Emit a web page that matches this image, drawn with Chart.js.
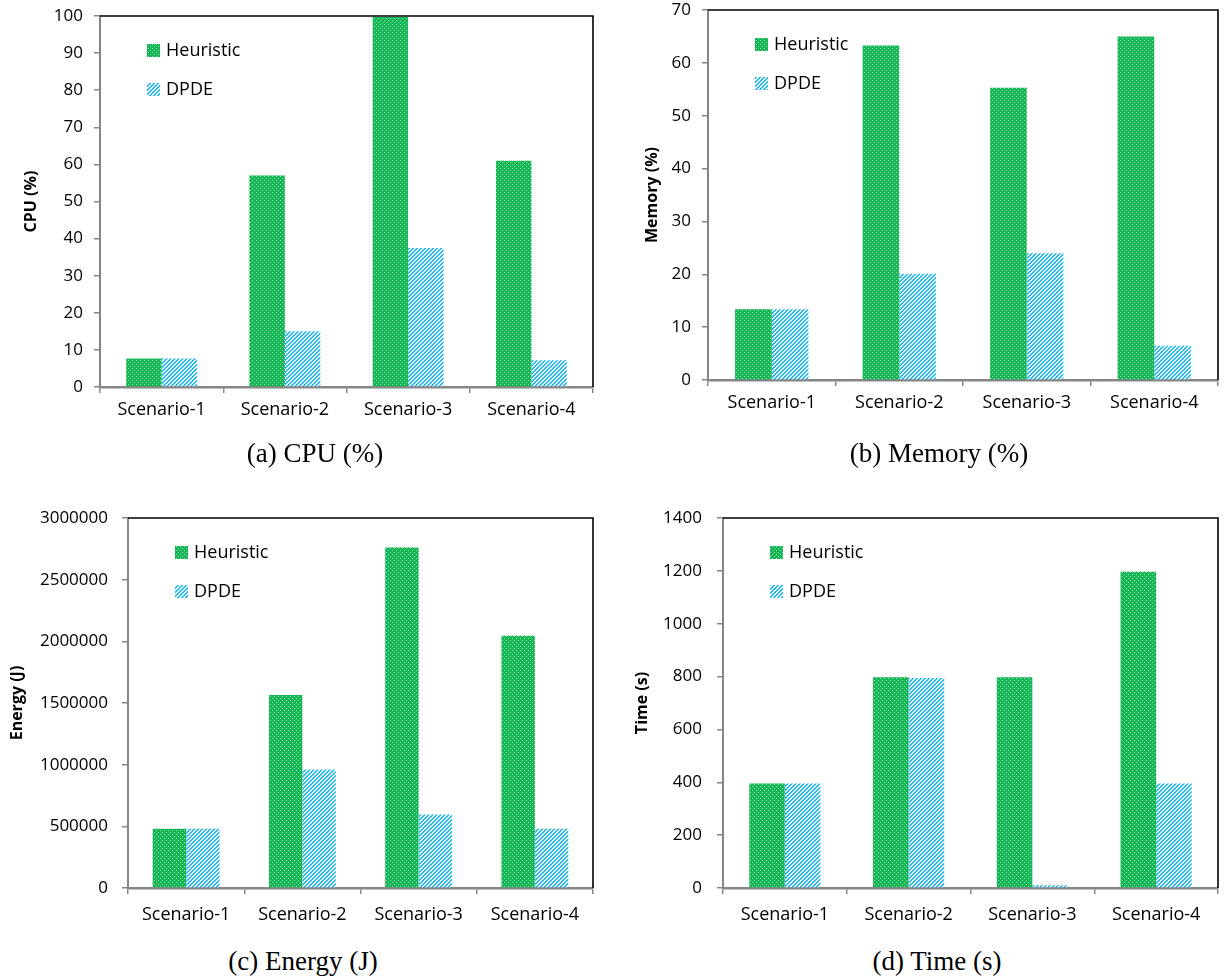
<!DOCTYPE html>
<html>
<head>
<meta charset="utf-8">
<script src="https://cdn.jsdelivr.net/npm/chart.js@4.4.1/dist/chart.umd.min.js"></script>
<style>
  html, body { margin: 0; padding: 0; background: #fff; }
  body { width: 1227px; height: 978px; position: relative; overflow: hidden; }
  canvas { position: absolute; }
  .cap { position: absolute; font-family: "Liberation Serif", "DejaVu Serif", serif; font-size: 27px; line-height: 30px; text-align: center; color: #000; white-space: nowrap; }
</style>
</head>
<body>
<canvas id="cA" width="600" height="460" style="left:0px;top:-20px"></canvas>
<canvas id="cB" width="627" height="460" style="left:600px;top:-20px"></canvas>
<canvas id="cC" width="600" height="440" style="left:0px;top:490px"></canvas>
<canvas id="cD" width="627" height="440" style="left:600px;top:490px"></canvas>
<div class="cap" style="left:115px;width:400px;top:438px">(a) CPU (%)</div>
<div class="cap" style="left:739px;width:400px;top:438px">(b) Memory (%)</div>
<div class="cap" style="left:103px;width:400px;top:946px">(c) Energy (J)</div>
<div class="cap" style="left:737px;width:400px;top:946px">(d) Time (s)</div>
<script>
// ---------- DATA ----------
const categories = ['Scenario-1', 'Scenario-2', 'Scenario-3', 'Scenario-4'];
const seriesNames = ['Heuristic', 'DPDE'];

const cpuHeuristic = [7.7, 57, 99.7, 61];
const cpuDPDE      = [7.7, 15, 37.5, 7.2];
const cpuTicks     = [0, 10, 20, 30, 40, 50, 60, 70, 80, 90, 100];

const memHeuristic = [13.4, 63.3, 55.3, 65];
const memDPDE      = [13.4, 20.1, 24, 6.5];
const memTicks     = [0, 10, 20, 30, 40, 50, 60, 70];

const energyHeuristic = [480000, 1565000, 2760000, 2045000];
const energyDPDE      = [480000, 960000, 595000, 480000];
const energyTicks     = [0, 500000, 1000000, 1500000, 2000000, 2500000, 3000000];

const timeHeuristic = [395, 797, 797, 1197];
const timeDPDE      = [395, 795, 10, 395];
const timeTicks     = [0, 200, 400, 600, 800, 1000, 1200, 1400];

// ---------- PATTERNS ----------
function makePattern(kind) {
  const c = document.createElement('canvas');
  c.width = 4; c.height = 4;
  const x = c.getContext('2d');
  if (kind === 'green') {
    x.fillStyle = '#16b656'; x.fillRect(0, 0, 4, 4);
    x.fillStyle = '#8fe0ad';
    x.fillRect(0, 0, 1, 1); x.fillRect(2, 2, 1, 1);
  } else {
    for (let i = 0; i < 4; i++) for (let j = 0; j < 4; j++) {
      x.fillStyle = ((i + j) % 4 < 2) ? '#2ab8f2' : '#e8f8fe';
      x.fillRect(i, j, 1, 1);
    }
  }
  return x.createPattern(c, 'repeat');
}
const greenPat = makePattern('green');
const bluePat = makePattern('blue');

const GRAY = '#868686';
const FAMILY = '"Open Sans", "Liberation Sans", sans-serif';

const framePlugin = {
  id: 'frameLegend',
  afterDraw(chart) {
    const { ctx, chartArea: a } = chart;
    ctx.save();
    ctx.strokeStyle = '#000'; ctx.lineWidth = 1.6;
    ctx.beginPath();
    ctx.moveTo(a.left, a.top); ctx.lineTo(a.right, a.top); ctx.lineTo(a.right, a.bottom);
    ctx.stroke();
    chart.data.datasets.forEach((ds, i) => {
      const x = a.left + 47, y = a.top + 34 + i * 39;
      ctx.fillStyle = ds.backgroundColor;
      ctx.fillRect(x, y - 6, 13, 13);
      ctx.fillStyle = '#000';
      ctx.font = '18px ' + FAMILY;
      ctx.textBaseline = 'middle';
      ctx.textAlign = 'left';
      ctx.fillText(ds.label, x + 19, y + 1);
    });
    ctx.restore();
  }
};

function build(id, geo, yTitle, heur, dpde, ticks) {
  const cv = document.getElementById(id);
  const W = cv.width, H = cv.height;
  new Chart(cv, {
    type: 'bar',
    data: {
      labels: categories,
      datasets: [
        { label: seriesNames[0], data: heur, backgroundColor: greenPat, borderWidth: 0 },
        { label: seriesNames[1], data: dpde, backgroundColor: bluePat, borderWidth: 0 }
      ]
    },
    options: {
      responsive: false, animation: false, events: [],
      datasets: { bar: { categoryPercentage: 0.575, barPercentage: 1 } },
      layout: { padding: { left: 0, top: geo.t - geo.cy, right: geo.cx + W - geo.r, bottom: 0 } },
      plugins: { legend: { display: false }, tooltip: { enabled: false } },
      scales: {
        x: {
          offset: true,
          grid: { display: true, drawOnChartArea: false, drawTicks: true, tickLength: 6, color: GRAY, offset: true, lineWidth: 1.5 },
          border: { color: GRAY, width: 2.5 },
          ticks: { color: '#000', font: { family: FAMILY, size: 18 }, padding: geo.xp, maxRotation: 0 },
          afterFit: s => { s.height = geo.cy + H - geo.b; }
        },
        y: {
          min: ticks[0], max: ticks[ticks.length - 1],
          afterBuildTicks: s => { s.ticks = ticks.map(v => ({ value: v })); },
          grid: { display: true, drawOnChartArea: false, drawTicks: true, tickLength: 6, color: GRAY, lineWidth: 1.5 },
          border: { color: GRAY, width: 2 },
          ticks: { color: '#000', font: { family: FAMILY, size: 17 }, padding: geo.tp, callback: v => String(v) },
          title: { display: true, text: yTitle, color: '#000', font: { family: FAMILY, size: 16, weight: 'bold', lineHeight: 1.2 }, padding: { top: geo.titleX - geo.cx - 10, bottom: 0 } },
          afterFit: s => { s.width = geo.l - geo.cx; }
        }
      }
    },
    plugins: [framePlugin]
  });
}

build('cA', { cx: 0,   cy: -20, l: 100, t: 16,  r: 593,  b: 387, tp: 11, xp: 6, titleX: 32 },  'CPU (%)',    cpuHeuristic,    cpuDPDE,    cpuTicks);
build('cB', { cx: 600, cy: -20, l: 708, t: 10,  r: 1218, b: 380, tp: 11, xp: 6, titleX: 653 }, 'Memory (%)', memHeuristic,    memDPDE,    memTicks);
build('cC', { cx: 0,   cy: 490, l: 128, t: 518, r: 593,  b: 888, tp: 14, xp: 10, titleX: 18 }, 'Energy (J)', energyHeuristic, energyDPDE, energyTicks);
build('cD', { cx: 600, cy: 490, l: 723, t: 518, r: 1218, b: 888, tp: 15, xp: 10, titleX: 643 }, 'Time (s)',   timeHeuristic,   timeDPDE,   timeTicks);
</script>
</body>
</html>
